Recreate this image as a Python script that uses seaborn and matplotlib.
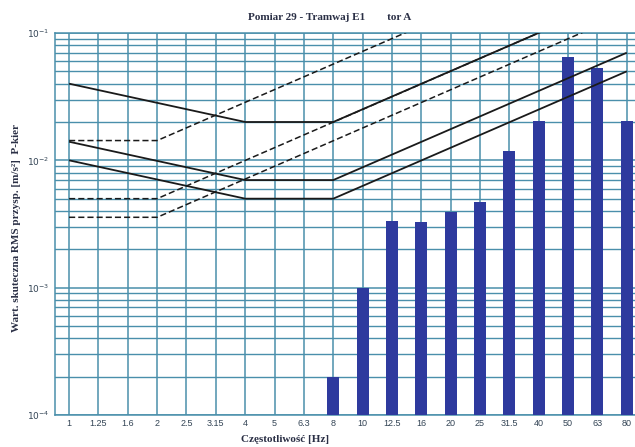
import matplotlib
matplotlib.use("Agg")
import matplotlib.pyplot as plt
import matplotlib.ticker as mticker
import numpy as np
import pandas as pd
import seaborn as sns

# ---- data ----
categories = ["1", "1.25", "1.6", "2", "2.5", "3.15", "4", "5", "6.3", "8",
              "10", "12.5", "16", "20", "25", "31.5", "40", "50", "63", "80"]

bar_freqs = ["8", "10", "12.5", "16", "20", "25", "31.5", "40", "50", "63", "80"]
bar_values = [2.0e-4, 1.0e-3, 3.35e-3, 3.25e-3, 3.95e-3, 4.75e-3,
              1.19e-2, 2.05e-2, 6.5e-2, 5.3e-2, 2.05e-2]

# solid limit curves (breakpoints)
solid_freqs = ["1", "4", "8", "80"]
solid_1 = [0.04, 0.02, 0.02, 0.2]
solid_2 = [0.014, 0.007, 0.007, 0.07]
solid_3 = [0.01, 0.005, 0.005, 0.05]

# dashed limit curves (breakpoints)
dashed_freqs = ["1", "2", "80"]
dashed_1 = [0.0143, 0.0143, 0.571]
dashed_2 = [0.005, 0.005, 0.2]
dashed_3 = [0.00357, 0.00357, 0.143]

y_ticks = [1e-4, 1e-3, 1e-2, 1e-1]
y_tick_labels = [r"$10^{-4}$", r"$10^{-3}$", r"$10^{-2}$", r"$10^{-1}$"]

title = "Pomiar 29 - Tramwaj E1        tor A"
xlabel = "Częstotliwość [Hz]"
ylabel = "Wart. skuteczna RMS przysp. [m/s²]  P-kier"

# ---- plot ----
sns.set_style("white")
plt.rcParams["font.family"] = ["Liberation Serif", "DejaVu Serif"]

fig = plt.figure(figsize=(6.35, 4.47), dpi=100)
ax = fig.add_axes([55 / 635, 1 - 415 / 447, 1 - 55 / 635, (415 - 33) / 447])

grid_c = "#4a8fab"
ax.set_yscale("log")
ax.set_ylim(1e-4, 1e-1)

df = pd.DataFrame({"freq": bar_freqs, "val": bar_values})
sns.barplot(data=df, x="freq", y="val", order=categories, color="#2e3a9e",
            saturation=1, width=0.41, ax=ax, zorder=3, linewidth=0,
            edgecolor="#2e3a9e")

pos = {c: i for i, c in enumerate(categories)}
for vals in (solid_1, solid_2, solid_3):
    ax.plot([pos[f] for f in solid_freqs], vals, color="#1a1a1a", lw=1.3,
            zorder=4, solid_capstyle="butt")
for vals in (dashed_1, dashed_2, dashed_3):
    ax.plot([pos[f] for f in dashed_freqs], vals, color="#1a1a1a", lw=1.1,
            linestyle=(0, (4, 2)), zorder=4)

ax.set_xlim(-0.48, 19.28)
ax.set_ylim(1e-4, 1e-1)

ax.yaxis.set_major_locator(mticker.FixedLocator(y_ticks))
ax.yaxis.set_major_formatter(mticker.FixedFormatter(y_tick_labels))
ax.yaxis.set_minor_locator(mticker.LogLocator(base=10, subs=np.arange(2, 10)))
ax.yaxis.set_minor_formatter(mticker.NullFormatter())

ax.set_xticks(range(len(categories)))
ax.set_xticklabels(categories, fontsize=6.5,
                   family=["Liberation Sans Narrow", "Liberation Sans"])
ax.tick_params(axis="both", which="both", length=0, colors="#334455")
ax.tick_params(axis="y", labelsize=6.5, pad=4)
ax.tick_params(axis="x", pad=3)

ax.grid(True, which="major", axis="both", color=grid_c, lw=1.1, zorder=0)
ax.grid(True, which="minor", axis="y", color=grid_c, lw=1.0, zorder=0)
ax.set_axisbelow(True)

for s in ax.spines.values():
    s.set_color(grid_c)
    s.set_linewidth(1.1)
ax.spines["right"].set_visible(False)

ax.set_xlabel("")
ax.set_ylabel("")
fig.text(330 / 635, 1 - 18 / 447, title, ha="center", va="center",
         fontsize=8, fontweight="bold", color="#2a2f45")
fig.text(285 / 635, 1 - 440 / 447, xlabel, ha="center", va="center",
         fontsize=8, fontweight="bold", color="#2a2f45")
fig.text(17 / 635, 1 - 228 / 447, ylabel, ha="center", va="center",
         rotation=90, fontsize=8, fontweight="bold", color="#2a2f45")

fig.savefig("out.png", dpi=100)
